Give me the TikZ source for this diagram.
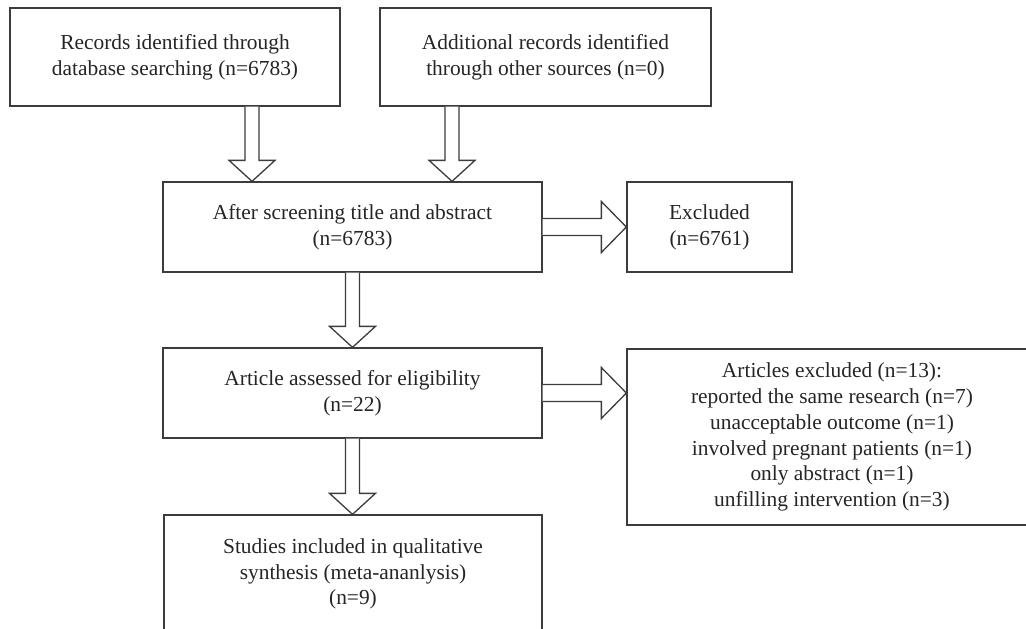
\documentclass[tikz,border=0pt]{standalone}
\usepackage{fontspec}
\setmainfont{Liberation Serif}
\usetikzlibrary{calc}
\definecolor{lc}{HTML}{3C3C3C}
\definecolor{tc}{HTML}{252525}
\newcommand\varr[2]{\draw[blk] let \p1=#1, \p2=#2 in
  (\x1-7pt,\y1) -- (\x1-7pt,\y2+21pt) -- (\x1-23pt,\y2+21pt) -- (\x1,\y2)
  -- (\x1+23pt,\y2+21pt) -- (\x1+7pt,\y2+21pt) -- (\x1+7pt,\y1);}
\newcommand\harr[2]{\draw[blk] let \p1=#1, \p2=#2 in
  (\x1,\y1+8.5pt) -- (\x2-25pt,\y1+8.5pt) -- (\x2-25pt,\y1+25.5pt) -- (\x2,\y1)
  -- (\x2-25pt,\y1-25.5pt) -- (\x2-25pt,\y1-8.5pt) -- (\x1,\y1-8.5pt);}
\begin{document}
\begin{tikzpicture}[x=1pt,y=-1pt,
  box/.style={draw=lc, line width=1.3pt, text=tc, align=center,
    font=\fontsize{21.4}{25.8}\selectfont, inner sep=0pt},
  blk/.style={draw=lc, line width=1.3pt, fill=white, line join=miter}]
\useasboundingbox (0,0) rectangle (1026,629);
\clip (0,0) rectangle (1026,629);
\node[box, minimum width=330, minimum height=98] (A) at (175,57)
  {Records identified through\\database searching (n=6783)};
\node[box, minimum width=331, minimum height=98] (B) at (545.5,57)
  {Additional records identified\\through other sources (n=0)};
\node[box, minimum width=379, minimum height=90] (C) at (352.5,227)
  {After screening title and abstract\\(n=6783)};
\node[box, minimum width=165, minimum height=90] (X) at (709.5,227)
  {Excluded\\(n=6761)};
\node[box, minimum width=379, minimum height=90] (D) at (352.5,393)
  {Article assessed for eligibility\\(n=22)};
\node[box, minimum width=410, minimum height=176] (E) at (832,437)
  {Articles excluded (n=13):\\reported the same research (n=7)\\unacceptable outcome (n=1)\\involved pregnant patients (n=1)\\only abstract (n=1)\\unfilling intervention (n=3)};
\node[box, minimum width=378, minimum height=118] (F) at (353,574)
  {Studies included in qualitative\\synthesis (meta-ananlysis)\\(n=9)};
\varr{($(A.south)+(77,0)$)}{(C.north)}
\varr{($(B.south)+(-93.5,0)$)}{(C.north)}
\varr{(C.south)}{(D.north)}
\varr{(D.south)}{(F.north)}
\harr{(C.east)}{(X.west)}
\harr{(D.east)}{(E.west)}
\end{tikzpicture}
\end{document}
